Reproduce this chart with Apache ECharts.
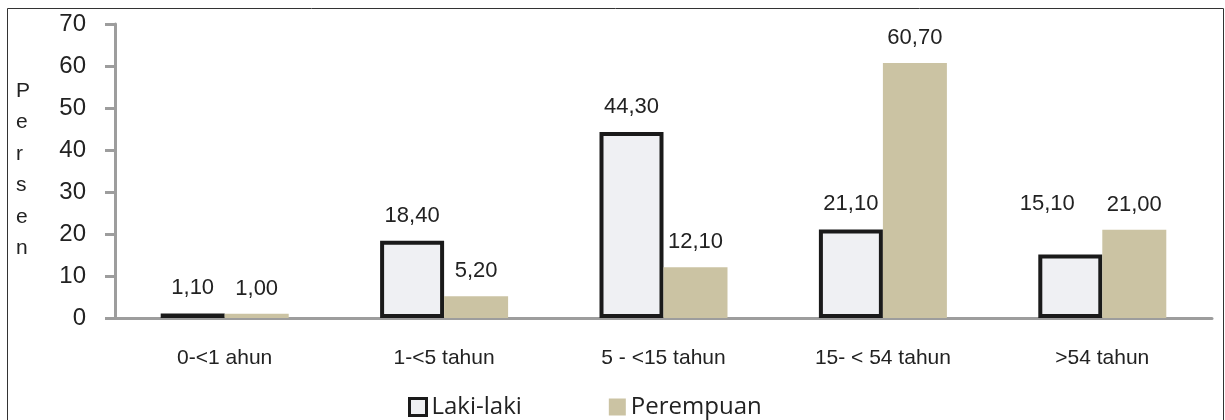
<!DOCTYPE html>
<html>
<head>
<meta charset="utf-8">
<script src="https://cdn.jsdelivr.net/npm/echarts@6/dist/echarts.min.js"></script>
<style>
  html, body { margin: 0; padding: 0; background: #fff; }
  #chart { width: 1225px; height: 420px; }
</style>
</head>
<body>
<div id="chart"></div>
<script>
// data
const categories = ["0-<1 ahun", "1-<5 tahun", "5 - <15 tahun", "15- < 54 tahun", ">54 tahun"];
const lakiLaki = [1.1, 18.4, 44.3, 21.1, 15.1];
const perempuan = [1.0, 5.2, 12.1, 60.7, 21.0];
const yTicks = [0, 10, 20, 30, 40, 50, 60, 70];

const axisGray = "#9d9d9d";
const fmt = (v) => v.toFixed(2).replace(".", ",");

const chart = echarts.init(document.getElementById("chart"));

// label for the last Laki-laki bar sits up beside the neighbour label
const lakiData = lakiLaki.map((v, i) => {
  if (i === 4) {
    return { value: v, label: { offset: [-23, -26] } };
  }
  return v;
});

chart.setOption({
  animation: false,
  textStyle: { fontFamily: "Liberation Sans, Arial, sans-serif" },
  grid: { left: 115, right: 13, top: 24, bottom: 102 },
  legend: {
    left: 403,
    top: 390,
    icon: "rect",
    itemWidth: 17,
    itemHeight: 17,
    itemGap: 87,
    textStyle: { fontFamily: "Open Sans", fontSize: 24, color: "#222" },
    data: [
      { name: "Laki-laki", itemStyle: { color: "#eff0f3", borderColor: "#1a1a1a", borderWidth: 3 } },
      { name: "Perempuan", itemStyle: { color: "#cbc3a3", borderWidth: 0 } }
    ]
  },
  xAxis: {
    type: "category",
    data: categories,
    axisLine: { lineStyle: { color: axisGray, width: 3 } },
    axisTick: { length: 7, lineStyle: { color: axisGray, width: 3 } },
    axisLabel: { color: "#222", fontSize: 21, margin: 30 }
  },
  yAxis: {
    type: "value",
    min: yTicks[0],
    max: yTicks[yTicks.length - 1],
    interval: 10,
    axisLine: { show: true, lineStyle: { color: axisGray, width: 3 } },
    axisTick: { show: true, length: 10, lineStyle: { color: axisGray, width: 3 } },
    axisLabel: { color: "#222", fontSize: 24, margin: 29 },
    splitLine: { show: false }
  },
  graphic: [
    {
      type: "rect",
      shape: { x: 7.5, y: 8.5, width: 1216, height: 500 },
      style: { fill: "none", stroke: "#333", lineWidth: 1 }
    },
    {
      type: "text",
      left: 16,
      top: 75,
      style: {
        text: "P\ne\nr\ns\ne\nn",
        font: "21px 'Liberation Sans', Arial, sans-serif",
        lineHeight: 31.5,
        fill: "#222",
        align: "left"
      }
    }
  ],
  series: [
    {
      name: "Laki-laki",
      type: "bar",
      data: lakiData,
      barWidth: 64,
      barGap: "0%",
      itemStyle: { color: "#eff0f3", borderColor: "#1a1a1a", borderWidth: 4 },
      label: {
        show: true,
        position: "top",
        distance: 14,
        fontSize: 22,
        color: "#222",
        formatter: (p) => fmt(p.value)
      }
    },
    {
      name: "Perempuan",
      type: "bar",
      data: perempuan,
      barWidth: 64,
      itemStyle: { color: "#cbc3a3" },
      label: {
        show: true,
        position: "top",
        distance: 14,
        fontSize: 22,
        color: "#222",
        formatter: (p) => fmt(p.value)
      }
    }
  ]
});
</script>
</body>
</html>
